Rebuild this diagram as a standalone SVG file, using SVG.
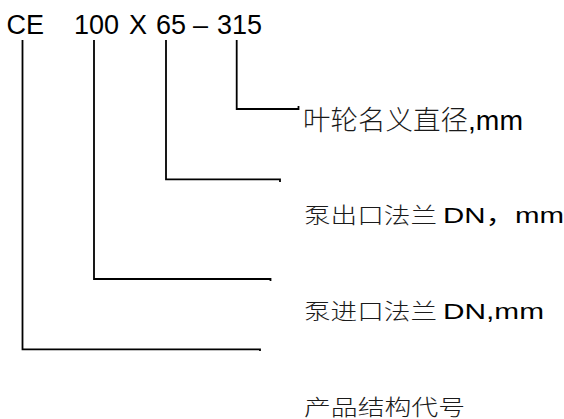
<svg xmlns="http://www.w3.org/2000/svg" width="564" height="419" viewBox="0 0 564 419">
<style>
.code{font-family:"Liberation Sans",Arial,sans-serif;font-size:27px;fill:#000}
.cjk{font-family:"Noto Sans CJK SC","Liberation Sans",sans-serif;font-weight:300;fill:#1a1a1a}
.lat{font-family:"Liberation Sans","Noto Sans CJK SC",sans-serif;fill:#000}
.conn{fill:none;stroke:#000;stroke-width:1.8;stroke-linejoin:miter}
</style>
<rect width="564" height="419" fill="#fff"/>
<g id="code">
<text class="code" x="6.5" y="34">CE</text>
<text class="code" x="74" y="34">100</text>
<text class="code" x="129" y="34">X</text>
<text class="code" x="156" y="34">65</text>
<text class="code" x="193" y="34">–</text>
<text class="code" x="217" y="34">315</text>
</g>
<g id="connectors">
<polyline class="conn" points="236.7,40 236.7,109 298.5,109 298.5,106"/>
<polyline class="conn" points="166,40 166,179.3 280,179.3 280,182"/>
<polyline class="conn" points="94,40 94,279 270.5,279 270.5,281"/>
<polyline class="conn" points="22.5,40 22.5,349.3 260,349.3 260,351"/>
</g>
<g id="impeller">
<text class="cjk" x="303" y="129.5" font-size="27" textLength="165" lengthAdjust="spacingAndGlyphs">叶轮名义直径</text>
<text class="lat" x="468" y="129.5" font-size="27" textLength="55" lengthAdjust="spacingAndGlyphs">,mm</text>
</g>
<g id="outlet">
<text class="cjk" x="304" y="223" font-size="22" textLength="133" lengthAdjust="spacingAndGlyphs">泵出口法兰</text>
<text class="lat" x="443" y="223" font-size="22" textLength="121" lengthAdjust="spacingAndGlyphs">DN，mm</text>
</g>
<g id="inlet">
<text class="cjk" x="304" y="318.5" font-size="22" textLength="133" lengthAdjust="spacingAndGlyphs">泵进口法兰</text>
<text class="lat" x="443" y="318.5" font-size="22" textLength="101" lengthAdjust="spacingAndGlyphs">DN,mm</text>
</g>
<g id="structure">
<text class="cjk" x="304" y="414.5" font-size="22" textLength="161" lengthAdjust="spacingAndGlyphs">产品结构代号</text>
</g>
</svg>
